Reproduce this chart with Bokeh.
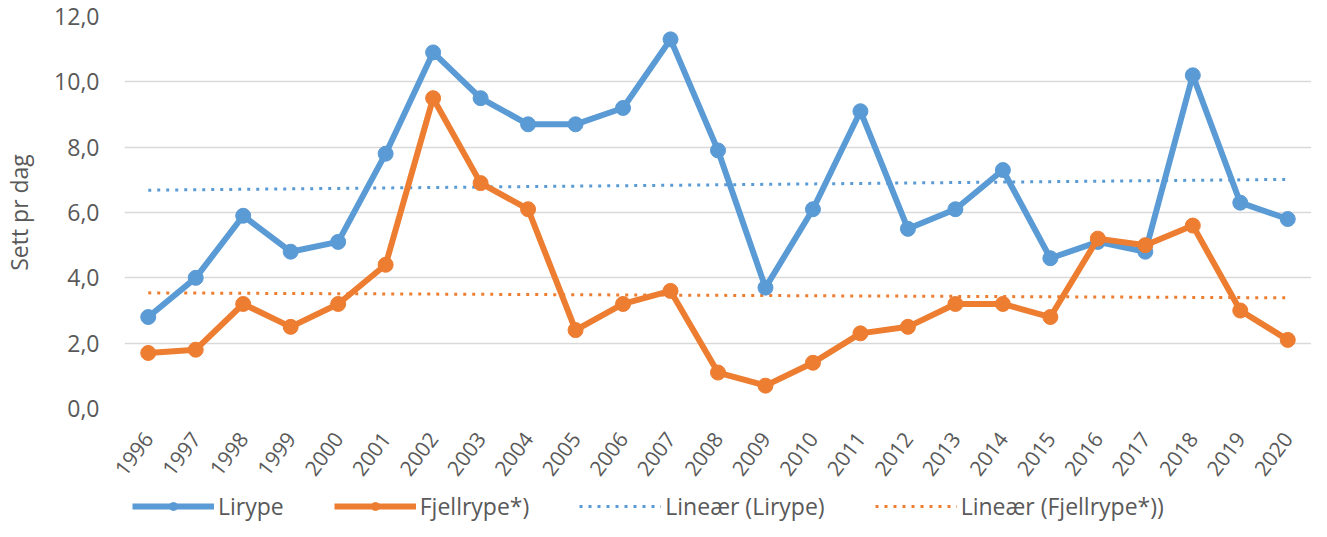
import numpy as np
from bokeh.plotting import figure
from bokeh.layouts import column
from bokeh.models import (Legend, LegendItem, CustomJSTickFormatter, SingleIntervalTicker,
                          Range1d, FactorRange)
from bokeh.embed import file_html
from bokeh.resources import INLINE

years = [str(y) for y in range(1996, 2021)]
lirype = [2.8, 4.0, 5.9, 4.8, 5.1, 7.8, 10.9, 9.5, 8.7, 8.7, 9.2, 11.3, 7.9,
          3.7, 6.1, 9.1, 5.5, 6.1, 7.3, 4.6, 5.1, 4.8, 10.2, 6.3, 5.8]
fjellrype = [1.7, 1.8, 3.2, 2.5, 3.2, 4.4, 9.5, 6.9, 6.1, 2.4, 3.2, 3.6, 1.1,
             0.7, 1.4, 2.3, 2.5, 3.2, 3.2, 2.8, 5.2, 5.0, 5.6, 3.0, 2.1]
labels = ["Lirype", "Fjellrype*)", "Lineær (Lirype)", "Lineær (Fjellrype*))"]

BLUE = "#5B9BD5"
ORANGE = "#ED7D31"
GREY = "#595959"
FONT = "Open Sans"

# linear trend lines (least squares, like Excel's "Lineær" trendline)
idx = np.arange(len(years))
b1 = np.polyfit(idx, lirype, 1)
b2 = np.polyfit(idx, fjellrype, 1)
trend_x = [years[0], years[-1]]
trend_l = list(np.polyval(b1, [idx[0], idx[-1]]))
trend_f = list(np.polyval(b2, [idx[0], idx[-1]]))

p = figure(width=1311, height=491, x_range=FactorRange(*years), y_range=Range1d(0, 12),
           title=None, output_backend="svg", toolbar_location=None,
           min_border_left=114, min_border_right=0, min_border_top=16, min_border_bottom=83)
p.x_range.range_padding = 0
p.outline_line_color = None
p.background_fill_color = "white"
p.border_fill_color = "white"

p.xgrid.grid_line_color = None
p.ygrid.grid_line_color = "#D9D9D9"
p.ygrid.grid_line_width = 1.5

p.yaxis.ticker = SingleIntervalTicker(interval=2, num_minor_ticks=0)
p.yaxis.formatter = CustomJSTickFormatter(code="return tick.toFixed(1).replace('.', ',');")
for ax in (p.xaxis, p.yaxis):
    ax.axis_line_color = None
    ax.major_tick_line_color = None
    ax.minor_tick_line_color = None
    ax.major_tick_out = 0
    ax.major_tick_in = 0
    ax.minor_tick_out = 0
    ax.major_label_text_color = GREY
    ax.major_label_text_font = FONT

p.yaxis.major_label_text_font_size = "23px"
p.yaxis.major_label_standoff = 25
p.yaxis.axis_label = "Sett pr dag"
p.yaxis.axis_label_text_font = FONT
p.yaxis.axis_label_text_font_size = "23px"
p.yaxis.axis_label_text_font_style = "normal"
p.yaxis.axis_label_text_color = GREY
p.yaxis.axis_label_standoff = 16

p.xaxis.major_label_text_font_size = "21px"
p.xaxis.major_label_orientation = 0.92
p.xaxis.major_label_standoff = 26

p.line(trend_x, trend_l, line_color=BLUE, line_width=3, line_dash="3 6")
p.line(trend_x, trend_f, line_color=ORANGE, line_width=3, line_dash="3 6")
p.line(years, lirype, line_color=BLUE, line_width=6, line_join="round")
p.scatter(years, lirype, size=15, fill_color=BLUE, line_color=BLUE)
p.line(years, fjellrype, line_color=ORANGE, line_width=6, line_join="round")
p.scatter(years, fjellrype, size=15, fill_color=ORANGE, line_color=ORANGE)

# legend strip below the chart (legend-only renderers, no visible data)
lg = figure(width=1311, height=30, x_range=Range1d(0, 1), y_range=Range1d(0, 1),
            title=None, x_axis_type=None, y_axis_type=None, output_backend="svg",
            toolbar_location=None,
            min_border_left=0, min_border_right=0, min_border_top=0, min_border_bottom=0)
lg.outline_line_color = None
lg.background_fill_color = "white"
lg.border_fill_color = "white"
nan = [float("nan")]
r1 = [lg.line(x=nan, y=nan, line_color=BLUE, line_width=6),
      lg.scatter(x=nan, y=nan, size=15, fill_color=BLUE, line_color=BLUE)]
r2 = [lg.line(x=nan, y=nan, line_color=ORANGE, line_width=6),
      lg.scatter(x=nan, y=nan, size=15, fill_color=ORANGE, line_color=ORANGE)]
r3 = [lg.line(x=nan, y=nan, line_color=BLUE, line_width=3, line_dash="3 6")]
r4 = [lg.line(x=nan, y=nan, line_color=ORANGE, line_width=3, line_dash="3 6")]

legend = Legend(items=[LegendItem(label=t, renderers=r) for t, r in zip(labels, [r1, r2, r3, r4])],
                orientation="horizontal", location="left", glyph_width=82, glyph_height=20,
                label_height=20, label_text_font=FONT, label_text_font_size="23px",
                label_text_color=GREY, spacing=50, label_standoff=4, padding=0, margin=8,
                border_line_color=None, background_fill_alpha=0)
lg.add_layout(legend)

layout = column(p, lg, spacing=0)
open("out.html", "w").write(file_html(layout, INLINE))
